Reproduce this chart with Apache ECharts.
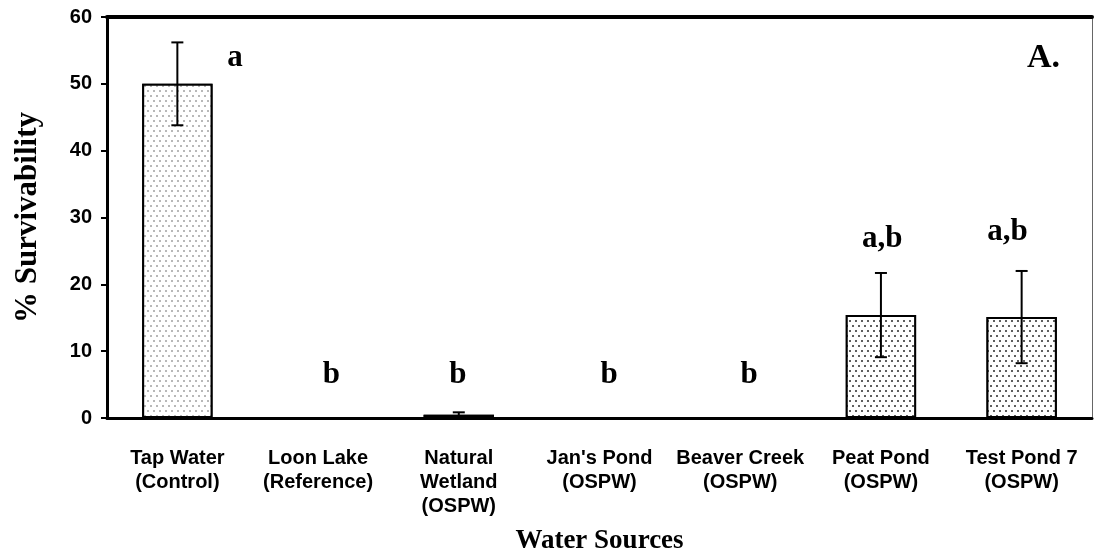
<!DOCTYPE html>
<html>
<head>
<meta charset="utf-8">
<script src="https://cdn.jsdelivr.net/npm/echarts@6/dist/echarts.min.js"></script>
<style>html,body{margin:0;padding:0;background:#fff;}#c{width:1094px;height:560px;}</style>
</head>
<body>
<div id="c"></div>
<script>
const categories = ['Tap Water\n(Control)', 'Loon Lake\n(Reference)', 'Natural\nWetland\n(OSPW)', "Jan's Pond\n(OSPW)", 'Beaver Creek\n(OSPW)', 'Peat Pond\n(OSPW)', 'Test Pond 7\n(OSPW)'];
const survival = [50, 0, 0.5, 0, 0, 15.4, 15.1];
const errors = [6.2, 0, 0.35, 0, 0, 6.3, 6.9];
const letters = ['a', 'b', 'b', 'b', 'b', 'a,b', 'a,b'];
const letterX = [0.41, 1.095, 1.994, 3.068, 4.063, 5.01, 5.9];
const letterY = [53.8, 6.4, 6.4, 6.4, 6.4, 26.8, 27.9];
const yTicks = { min: 0, max: 60, interval: 10 };

const sans = 'Liberation Sans';
const serif = 'Liberation Serif';

const lightDots = { symbol: 'circle', symbolSize: 1, color: '#a0a0a0', backgroundColor: '#ffffff',
  dashArrayX: [[1.6, 3.4], [0, 2.5, 1.6, 0.9]], dashArrayY: [1.6, 2.4] };
const darkDots = { symbol: 'circle', symbolSize: 1, color: '#2a2a2a', backgroundColor: '#ffffff',
  dashArrayX: [[1.8, 3.2], [0, 2.5, 1.8, 0.7]], dashArrayY: [1.8, 2.4] };

const barData = survival.map((v, i) => ({
  value: v,
  itemStyle: { color: '#fff', borderColor: '#000', borderWidth: 2, decal: i === 0 ? lightDots : darkDots }
}));
const errData = survival.map((v, i) => [i, v, errors[i]]);
const letterData = letters.map((t, i) => ({ value: [letterX[i], letterY[i]], label: { formatter: t } }));

const chart = echarts.init(document.getElementById('c'), null, { renderer: 'canvas' });
chart.setOption({
  animation: false,
  backgroundColor: '#fff',
  title: { text: 'A.', right: 29, top: 36, textStyle: { fontFamily: serif, fontWeight: 'bold', fontSize: 34, color: '#000' } },
  grid: { left: 107, top: 17, right: 2, bottom: 140, containLabel: false },
  xAxis: [
    {
      type: 'category', data: categories, position: 'bottom',
      axisLine: { onZero: false, lineStyle: { color: '#000', width: 3 } },
      axisTick: { show: false },
      axisLabel: { interval: 0, color: '#000', fontFamily: sans, fontWeight: 'bold', fontSize: 20, lineHeight: 24, margin: 28 },
      name: 'Water Sources', nameLocation: 'middle', nameGap: 110,
      nameTextStyle: { fontFamily: serif, fontWeight: 'bold', fontSize: 27, color: '#000' }
    },
    {
      type: 'value', position: 'top', min: -0.5, max: 6.5,
      axisLine: { show: true, onZero: false, lineStyle: { color: '#000', width: 4 } },
      axisTick: { show: false }, axisLabel: { show: false }, splitLine: { show: false }
    }
  ],
  yAxis: [
    {
      type: 'value', min: yTicks.min, max: yTicks.max, interval: yTicks.interval,
      axisLine: { show: true, onZero: false, lineStyle: { color: '#000', width: 3 } },
      axisTick: { show: true, length: 6, lineStyle: { color: '#000', width: 2 } },
      axisLabel: { color: '#000', fontFamily: sans, fontWeight: 'bold', fontSize: 20, margin: 15 },
      splitLine: { show: false },
      name: '% Survivability', nameLocation: 'middle', nameGap: 64, nameRotate: 90,
      nameTextStyle: { fontFamily: serif, fontWeight: 'bold', fontSize: 31, color: '#000' }
    },
    {
      type: 'value', position: 'right', min: yTicks.min, max: yTicks.max, interval: yTicks.interval,
      axisLine: { show: true, onZero: false, lineStyle: { color: '#666', width: 1 } },
      axisTick: { show: false }, axisLabel: { show: false }, splitLine: { show: false }
    }
  ],
  series: [
    {
      type: 'bar', data: barData, barWidth: '50%', xAxisIndex: 0, yAxisIndex: 0
    },
    {
      type: 'custom', xAxisIndex: 0, yAxisIndex: 0, data: errData, z: 5,
      renderItem: function (params, api) {
        const x = api.value(0), m = api.value(1), e = api.value(2);
        if (!e) return null;
        const hi = api.coord([x, m + e]);
        const lo = api.coord([x, m - e]);
        const w = 6;
        const st = { stroke: '#000', lineWidth: 2 };
        return { type: 'group', children: [
          { type: 'line', shape: { x1: hi[0], y1: hi[1], x2: lo[0], y2: lo[1] }, style: st },
          { type: 'line', shape: { x1: hi[0] - w, y1: hi[1], x2: hi[0] + w, y2: hi[1] }, style: st },
          { type: 'line', shape: { x1: lo[0] - w, y1: lo[1], x2: lo[0] + w, y2: lo[1] }, style: st }
        ] };
      }
    },
    {
      type: 'scatter', xAxisIndex: 1, yAxisIndex: 0, symbolSize: 0, data: letterData, z: 6,
      itemStyle: { opacity: 1 },
      label: { show: true, position: 'inside', color: '#000', opacity: 1, fontFamily: serif, fontWeight: 'bold', fontSize: 31 }
    }
  ]
});
</script>
</body>
</html>
